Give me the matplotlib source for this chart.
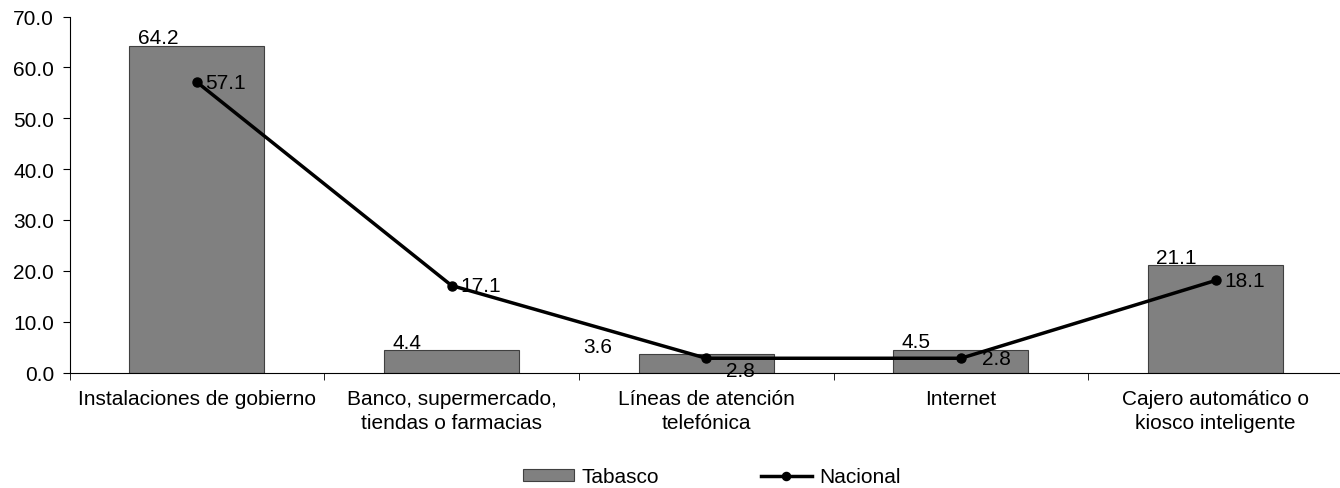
import matplotlib.pyplot as plt
import numpy as np

plt.rcParams.update({
    'font.family': ['Liberation Sans', 'DejaVu Sans'],
    'font.size': 15,
})

categories = ["Instalaciones de gobierno", "Banco, supermercado,\ntiendas o farmacias",
              "Líneas de atención\ntelefónica", "Internet",
              "Cajero automático o\nkiosco inteligente"]
tabasco = [64.2, 4.4, 3.6, 4.5, 21.1]
nacional = [57.1, 17.1, 2.8, 2.8, 18.1]

fig = plt.figure(figsize=(13.4, 4.89), dpi=100)
ax = fig.add_axes([69.5 / 1340, 1 - 373.5 / 489, 1273.5 / 1340, 356 / 489])

x = np.arange(len(categories))
w = 0.53
bars = ax.bar(x, tabasco, width=w, color='#808080', edgecolor='#404040', linewidth=0.8,
              label='Tabasco', zorder=1)
line, = ax.plot(x, nacional, '-o', color='black', linewidth=2.5, markersize=6.5,
                label='Nacional', zorder=3)

# value labels (Excel-style placement)
for i, v in enumerate(tabasco):
    dx = -40 if i == 2 else 6
    ax.annotate(f"{v:.1f}", (x[i] - w / 2, v), xytext=(dx, -1), textcoords='offset points',
                ha='left', va='bottom', zorder=2)
for i, v in enumerate(nacional):
    if i == 2:
        ax.annotate(f"{v:.1f}", (x[i], v), xytext=(14, -2), textcoords='offset points',
                    ha='left', va='top', zorder=4)
    else:
        dx = 15 if i == 3 else 6
        ax.annotate(f"{v:.1f}", (x[i], v), xytext=(dx, 0), textcoords='offset points',
                    ha='left', va='center', zorder=4)

ax.set_xlim(-0.5, len(categories) - 0.5)
ax.set_ylim(0, 70)
ax.set_yticks(np.arange(0, 71, 10))
ax.set_yticklabels([f"{t:.1f}" for t in np.arange(0, 71, 10)])
ax.set_xticks(x)
ax.set_xticklabels(categories, linespacing=1.3)
ax.set_xticks(np.arange(-0.5, len(categories), 1), minor=True)
ax.tick_params(axis='x', which='major', length=0, pad=12)
ax.tick_params(axis='x', which='minor', length=5, direction='out')
ax.tick_params(axis='y', length=5, direction='out', pad=6)
ax.spines['top'].set_visible(False)
ax.spines['right'].set_visible(False)

fig.legend([bars, line], ['Tabasco', 'Nacional'], loc='center left',
           bbox_to_anchor=(504 / 1340, 1 - 478 / 489), ncol=2, frameon=False,
           columnspacing=4.9, handlelength=2.45, handleheight=0.5, handletextpad=0.35,
           markerscale=0.9)

plt.savefig('out.png', dpi=100)
